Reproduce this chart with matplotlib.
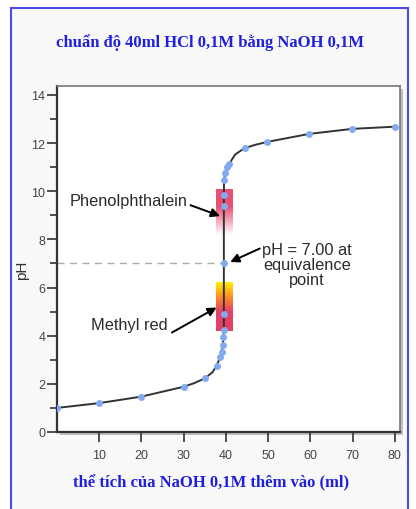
import numpy as np
import matplotlib
matplotlib.use('Agg')
import matplotlib.pyplot as plt
from matplotlib import patheffects
from matplotlib.patches import Rectangle

# Titration data (ml NaOH, pH)
vol = [0, 10, 20, 30, 35, 37.8, 38.6, 39.0, 39.25, 39.4, 39.5, 39.5, 39.5,
       39.5, 39.5, 39.55, 39.8, 40.2, 40.8, 44.4, 49.8, 59.7, 69.9, 80]
ph = [1.0, 1.2, 1.47, 1.88, 2.23, 2.76, 3.1, 3.31, 3.6, 3.94, 4.24, 4.9, 7.0,
      9.39, 9.83, 10.46, 10.74, 11.0, 11.15, 11.79, 12.05, 12.38, 12.59, 12.68]

# extra points on the drawn curve (no marker)
curve_vol = [32.5, 36.8, 42.2, 47.0]
curve_ph = [2.03, 2.48, 11.53, 11.93]

# indicator ranges (pH)
phenol_range = [8.2, 10.1]
methyl_range = [4.2, 6.2]
indicator_x = [37.6, 41.4]
equiv_ph = 7.0

x_ticks = [10, 20, 30, 40, 50, 60, 70, 80]
y_ticks = [0, 2, 4, 6, 8, 10, 12, 14]

title = 'chuẩn độ 40ml HCl 0,1M bằng NaOH 0,1M'
xlabel = 'thể tích của NaOH 0,1M thêm vào (ml)'

fig = plt.figure(figsize=(4.16, 5.10), dpi=100)
fig.patch.set_facecolor('white')

# blue frame around the whole picture
fig.patches.append(Rectangle((11 / 416, -0.05), 397 / 416, 1.05 - 9 / 510,
                             transform=fig.transFigure, facecolor='#f8f8f8',
                             edgecolor='#4b4bea', linewidth=1.5, zorder=-5))

ax = fig.add_axes([57 / 416, 77 / 510, 343 / 416, 346 / 510])
ax.set_facecolor('white')
ax.patch.set_path_effects([patheffects.withSimplePatchShadow(offset=(2, -2), shadow_rgbFace='#999999', alpha=0.6),
                           patheffects.Normal()])

# indicator colour bars
n = 100
pp = np.zeros((n, 1, 4))
t = np.linspace(0, 1, n)  # 0 = bottom, 1 = top
pp[:, 0, 0] = 0.91
pp[:, 0, 1] = 0.27
pp[:, 0, 2] = 0.42
pp[:, 0, 3] = np.clip(t * 1.6, 0, 1) * 0.95
ax.imshow(pp, extent=[indicator_x[0], indicator_x[1], phenol_range[0], phenol_range[1]],
          origin='lower', aspect='auto', zorder=1, interpolation='bilinear')

mr = np.zeros((n, 1, 4))
red = np.array([0.90, 0.25, 0.40])
orange = np.array([1.0, 0.55, 0.15])
yellow = np.array([1.0, 0.95, 0.0])
for i, v in enumerate(t):
    if v < 0.4:
        c = red
    elif v < 0.7:
        s = (v - 0.4) / 0.3
        c = red * (1 - s) + orange * s
    else:
        s = (v - 0.7) / 0.3
        c = orange * (1 - s) + yellow * s
    mr[i, 0, :3] = c
    mr[i, 0, 3] = 1
ax.imshow(mr, extent=[indicator_x[0], indicator_x[1], methyl_range[0], methyl_range[1]],
          origin='lower', aspect='auto', zorder=1, interpolation='bilinear')

# dashed line at equivalence pH
ax.plot([0, 39.5], [equiv_ph, equiv_ph], color='#aaaaaa', ls=(0, (5, 4)), lw=1, zorder=2)

# curve through the marker points plus the extra curve points
pts = sorted(zip(vol + curve_vol, ph + curve_ph), key=lambda p: (p[0], p[1]))
ax.plot([p[0] for p in pts], [p[1] for p in pts], color='#333333', lw=1.4, zorder=3)
ax.plot(vol, ph, 'o', color='#82aaf0', ms=5, mec='none', zorder=4)

txt = dict(color='#2b2b2b', fontsize=11.8, family='Liberation Sans')
arrow = dict(arrowstyle='-|>', color='black', lw=1.4, mutation_scale=13, shrinkA=0, shrinkB=0)

ax.text(3.1, 9.6, 'Phenolphthalein', ha='left', va='center', **txt)
ax.annotate('', xy=(38.6, 8.97), xytext=(31.6, 9.42), arrowprops=arrow, zorder=5)

ax.text(8.1, 4.47, 'Methyl red', ha='left', va='center', **txt)
ax.annotate('', xy=(37.8, 5.17), xytext=(27.2, 4.13), arrowprops=arrow, zorder=5)

ax.text(59.2, 6.95, 'pH = 7.00 at\nequivalence\npoint', ha='center', va='center',
        linespacing=1.02, **txt)
ax.annotate('', xy=(41.0, 7.06), xytext=(48.0, 7.62), arrowprops=arrow, zorder=5)

ax.set_xlim(0, 81.2)
ax.set_ylim(0, 14.37)
ax.set_xticks(x_ticks)
ax.set_yticks(y_ticks)
ax.set_yticks(range(1, 14, 2), minor=True)
ax.tick_params(axis='both', direction='out', color='#333333', labelcolor='#444444',
               labelsize=9, width=1.2, pad=1.5)
ax.tick_params(axis='x', length=7, pad=5)
ax.tick_params(axis='y', which='major', length=7)
ax.tick_params(axis='y', which='minor', length=5, width=1.2, color='#333333')
for lab in ax.get_xticklabels() + ax.get_yticklabels():
    lab.set_family('Liberation Sans')

for side in ['left', 'bottom']:
    ax.spines[side].set_color('#333333')
    ax.spines[side].set_linewidth(1.6)
for side in ['top', 'right']:
    ax.spines[side].set_color('#777777')
    ax.spines[side].set_linewidth(1.2)

fig.text(22 / 416, 240 / 510, 'pH', rotation=90, ha='center', va='center',
         color='#333333', fontsize=11, family='Liberation Sans')

fig.text(209.5 / 416, 467 / 510, title, ha='center', va='center', color='#1f1fe0',
         fontsize=12, fontweight='bold', family='Liberation Serif')
fig.text(211.5 / 416, 27 / 510, xlabel, ha='center', va='center', color='#1f1fe0',
         fontsize=12, fontweight='bold', family='Liberation Serif')

fig.savefig('out.png', dpi=100)
